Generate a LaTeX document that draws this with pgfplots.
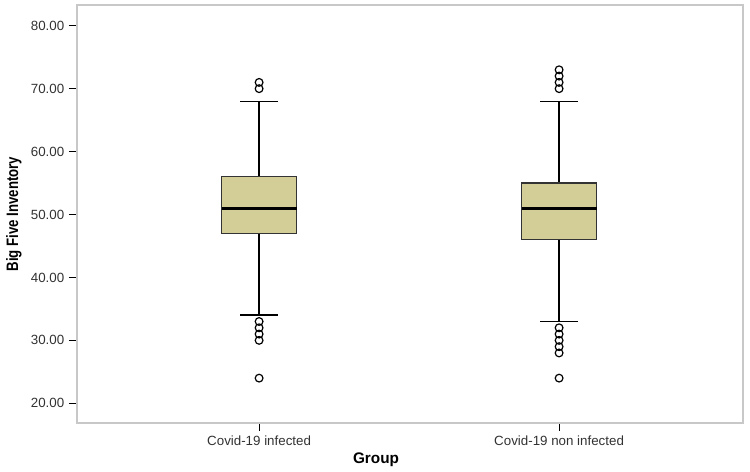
\documentclass[border=0pt]{standalone}
\usepackage{fontspec}
\setmainfont{Liberation Sans}
\newfontfamily\narrowbold[FakeStretch=0.8]{Liberation Sans Bold}
\usepackage{pgfplots}
\pgfplotsset{compat=1.18}
\usepgfplotslibrary{statistics}
\definecolor{boxfill}{RGB}{211,206,152}
\definecolor{framegray}{RGB}{200,200,200}
\definecolor{ticktext}{RGB}{50,50,50}

\begin{document}
\begin{tikzpicture}
\begin{axis}[
    scale only axis,
    width=499.5pt,
    height=313.5pt,
    xmin=0.393, xmax=2.613,
    ymin=16.87, ymax=83.3,
    xtick={1,2},
    xticklabels={Covid-19 infected, Covid-19 non infected},
    ytick={20,30,40,50,60,70,80},
    yticklabel={\pgfmathprintnumber[fixed, fixed zerofill, precision=2, assume math mode=true]{\tick}},
    tick label style={font=\fontsize{10}{12}\selectfont, text=ticktext},
    axis line style={framegray, line width=0.8pt},
    tick align=outside,
    xtick style={black, line width=0.9pt},
    ytick style={black, line width=0.9pt},
    major tick length=6pt,
    xtick pos=bottom, ytick pos=left,
    ylabel={Big Five Inventory},
    ylabel style={at={(axis description cs:-0.0946,0.5)}, anchor=center,
                  font=\narrowbold\fontsize{12.4}{15}\selectfont},
    xlabel={Group},
    xlabel style={at={(axis description cs:0.449,-0.0885)}, anchor=center,
                  font=\bfseries\fontsize{11.5}{14}\selectfont},
    boxplot/draw direction=y,
    boxplot/box extend=0.25,
    boxplot/whisker extend=0.125,
]

% Covid-19 infected
\addplot[black, mark=o, mark size=2.9pt, mark options={black, line width=0.9pt, fill=white},
    boxplot/every box/.style={draw=black!80, fill=boxfill, line width=0.9pt},
    boxplot/every median/.style={black, line width=2.2pt},
    boxplot/every whisker/.style={black, line width=1.1pt},
    boxplot prepared={lower whisker=34, lower quartile=47, median=51,
                      upper quartile=56, upper whisker=68, draw position=1}]
    table[row sep=\\, y index=0] {
    y\\ 70\\ 71\\ 33\\ 32\\ 31\\ 30\\ 24\\
};

% Covid-19 non infected
\addplot[black, mark=o, mark size=2.9pt, mark options={black, line width=0.9pt, fill=white},
    boxplot/every box/.style={draw=black!80, fill=boxfill, line width=0.9pt},
    boxplot/every median/.style={black, line width=2.2pt},
    boxplot/every whisker/.style={black, line width=1.1pt},
    boxplot prepared={lower whisker=33, lower quartile=46, median=51,
                      upper quartile=55, upper whisker=68, draw position=2}]
    table[row sep=\\, y index=0] {
    y\\ 70\\ 71\\ 72\\ 73\\ 32\\ 31\\ 30\\ 29\\ 28\\ 24\\
};

\end{axis}
\path[use as bounding box] ([xshift=-57.75pt, yshift=-35.25pt]current axis.south west)
    rectangle ([xshift=5.25pt, yshift=3.75pt]current axis.north east);
\end{tikzpicture}
\end{document}
